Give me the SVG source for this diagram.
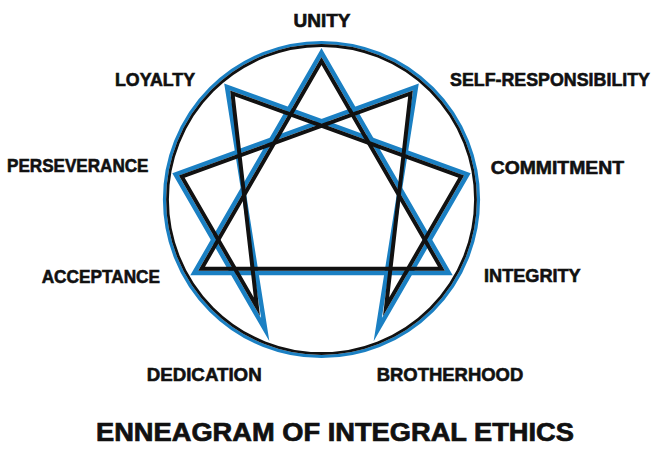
<svg xmlns="http://www.w3.org/2000/svg" width="657" height="461" viewBox="0 0 657 461">
<style>
.lbl{font-family:"Liberation Sans","DejaVu Sans",Arial,sans-serif;font-weight:bold;font-size:18.5px;fill:#111;stroke:#111;stroke-width:0.6}
.ttl{font-family:"Liberation Sans","DejaVu Sans",Arial,sans-serif;font-weight:bold;font-size:25px;fill:#111;stroke:#111;stroke-width:0.7}
.b{fill:none;stroke:#1b80c3;stroke-width:4.5;stroke-linejoin:miter;stroke-miterlimit:12}
.k{fill:none;stroke:#111;stroke-width:4;stroke-linejoin:miter;stroke-miterlimit:12}
</style>
<rect width="657" height="461" fill="#fff"/>
<g id="connectors">
  <circle cx="321.5" cy="199.5" r="157" fill="none" stroke="#1b80c3" stroke-width="3.2"/>
  <circle cx="321.5" cy="199.5" r="154" fill="none" stroke="#111" stroke-width="2.8"/>
  <polygon class="b" points="321.5,52.5 448.8,273 194.2,273"/>
  <polygon class="b" points="415.99,86.9 377.74,329.68 467.41,174.4 227.01,86.9 265.26,329.68 175.59,174.4"/>
  <polygon class="k" points="321.5,61 441.44,268.75 201.56,268.75"/>
  <polygon class="k" points="410.52,93.41 386.11,306.69 461.2,176.66 232.48,93.41 256.89,306.69 181.8,176.66"/>
</g>
<g id="n9"><text class="lbl" x="322" y="26.7" text-anchor="middle" textLength="57" lengthAdjust="spacingAndGlyphs">UNITY</text></g>
<g id="n8"><text class="lbl" x="115" y="86" textLength="80" lengthAdjust="spacingAndGlyphs">LOYALTY</text></g>
<g id="n1"><text class="lbl" x="450" y="86" textLength="200" lengthAdjust="spacingAndGlyphs">SELF-RESPONSIBILITY</text></g>
<g id="n7"><text class="lbl" x="7" y="172.3" textLength="141.5" lengthAdjust="spacingAndGlyphs">PERSEVERANCE</text></g>
<g id="n2"><text class="lbl" x="490.7" y="174" textLength="133.3" lengthAdjust="spacingAndGlyphs">COMMITMENT</text></g>
<g id="n6"><text class="lbl" x="41.7" y="283.3" textLength="118.3" lengthAdjust="spacingAndGlyphs">ACCEPTANCE</text></g>
<g id="n3"><text class="lbl" x="484" y="281.7" textLength="96.7" lengthAdjust="spacingAndGlyphs">INTEGRITY</text></g>
<g id="n5"><text class="lbl" x="146.7" y="380.7" textLength="115" lengthAdjust="spacingAndGlyphs">DEDICATION</text></g>
<g id="n4"><text class="lbl" x="376.7" y="380.7" textLength="146.6" lengthAdjust="spacingAndGlyphs">BROTHERHOOD</text></g>
<g id="title"><text class="ttl" x="96" y="441" textLength="478" lengthAdjust="spacingAndGlyphs">ENNEAGRAM OF INTEGRAL ETHICS</text></g>
</svg>
